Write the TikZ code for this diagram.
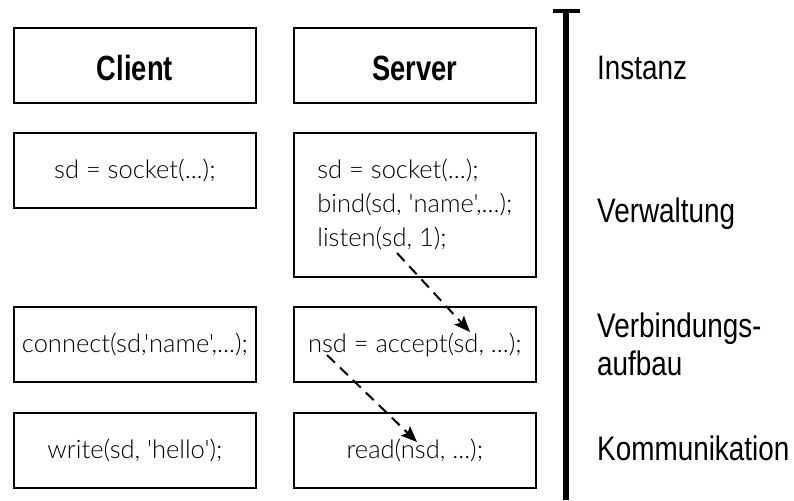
\documentclass[tikz,border=0pt]{standalone}
\usepackage{fontspec}
\setmainfont{Liberation Sans}
\newfontfamily\labelfont[FakeStretch=0.82]{Liberation Sans}
\newfontfamily\headfont[FakeStretch=0.78]{Liberation Sans}
\newfontfamily\codefont{Lato Light}
\usetikzlibrary{arrows.meta}
\tikzset{
  box/.style={draw=black, line width=1.8pt, anchor=north west, inner sep=0pt,
    minimum width=242pt, minimum height=75pt},
  head/.style={font=\headfont\bfseries\fontsize{35}{40}\selectfont,
    text height=33pt, text depth=2pt},
  code/.style={font=\codefont\fontsize{25.5}{33}\selectfont,
    text height=20pt, text depth=4pt},
  codeblock/.style={font=\codefont\fontsize{25.5}{34}\selectfont, align=left},
  lbl/.style={font=\labelfont\fontsize{34}{38}\selectfont, anchor=base west, inner sep=0pt},
  flow/.style={line width=2pt, dash pattern=on 11pt off 7pt,
    -{Stealth[length=16pt,width=13pt,inset=3pt]}},
}
\begin{document}
\begin{tikzpicture}[x=1pt,y=-1pt]
\useasboundingbox (0,0) rectangle (794,500);

% instances
\node[box, head] (client) at (13,27) {Client};
\node[box, head] (server) at (293,27) {Server};

% management
\node[box, code] (csock) at (13,132) {sd = socket(...);};
\node[box, codeblock, minimum height=144pt] (ssetup) at (293,132)
  {sd = socket(...);\\bind(sd, 'name',...);\\listen(sd, 1);};

% connection setup
\node[box, code] (cconn) at (13,306) {connect(sd,'name',...);};
\node[box, code] (saccept) at (293,306) {nsd = accept(sd, ...);};

% communication
\node[box, code] (cwrite) at (13,412) {write(sd, 'hello');};
\node[box, code] (sread) at (293,412) {read(nsd, ...);};

% listen -> accept -> read
\coordinate (listenfd) at (397,253);
\coordinate (acceptfd) at (470,332);
\coordinate (newfd) at (327,355);
\coordinate (readfd) at (417,442);
\draw[flow] (listenfd) -- (acceptfd);
\draw[flow] (newfd) -- (readfd);

% phase axis
\coordinate (axtop) at (566,11);
\coordinate (axbot) at (566,500);
\coordinate (capl) at (552.5,11);
\coordinate (capr) at (579.5,11);
\draw[line width=6pt] (axtop) -- (axbot);
\draw[line width=4.5pt] (capl) -- (capr);

\node[lbl] (inst) at (597,80) {Instanz};
\node[lbl] (verw) at (597,222) {Verwaltung};
\node[lbl] (verb1) at (597,337) {Verbindungs-};
\node[lbl] (verb2) at (597,375) {aufbau};
\node[lbl] (komm) at (597,460) {Kommunikation};
\end{tikzpicture}
\end{document}
